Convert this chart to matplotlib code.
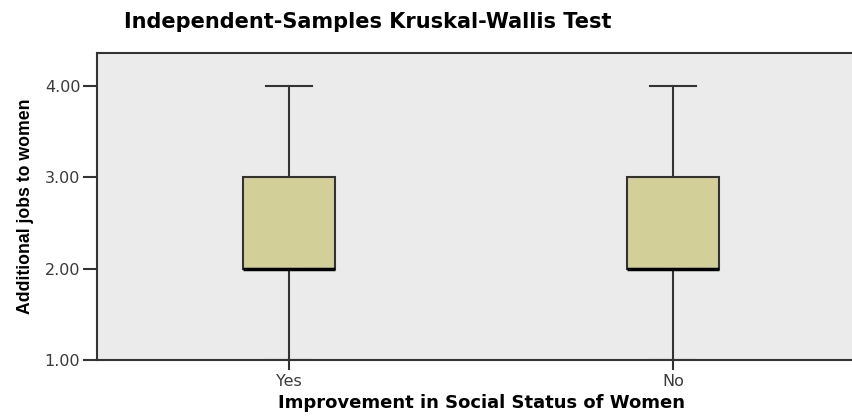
import matplotlib.pyplot as plt

groups = ['Yes', 'No']
q1 = [2.0, 2.0]
medians = [2.0, 2.0]
q3 = [3.0, 3.0]
mins = [1.0, 1.0]
maxs = [4.0, 4.0]
yticks = [1.0, 2.0, 3.0, 4.0]

W, H = 853, 419
fig = plt.figure(figsize=(W / 100, H / 100), dpi=100)
ax = fig.add_axes([97 / W, (H - 360) / H, (865 - 97) / W, (360 - 53) / H])
ax.set_facecolor('#ebebeb')

stats = []
for i in range(len(groups)):
    stats.append({'label': groups[i], 'q1': q1[i], 'med': medians[i], 'q3': q3[i],
                  'whislo': mins[i], 'whishi': maxs[i], 'fliers': []})

edge = '#333333'
ax.bxp(stats, positions=range(len(groups)), widths=0.24, patch_artist=True,
       showfliers=False,
       boxprops=dict(facecolor='#d3cf98', edgecolor=edge, linewidth=1.5),
       medianprops=dict(color='black', linewidth=2.5),
       whiskerprops=dict(color=edge, linewidth=1.5),
       capprops=dict(color=edge, linewidth=1.5),
       capwidths=0.12)

ax.set_xlim(-0.5, 1.5)
ax.set_ylim(1.0, 4.36)
ax.set_yticks(yticks)
ax.set_yticklabels(['%.2f' % v for v in yticks])
ax.set_xticks(range(len(groups)))
ax.set_xticklabels(groups)

for s in ['left', 'bottom', 'top']:
    ax.spines[s].set_color(edge)
    ax.spines[s].set_linewidth(1.5)
ax.spines['right'].set_visible(False)

ax.tick_params(axis='y', length=10, width=1.5, color=edge, labelsize=11.5,
               labelcolor='#3a3a3a', pad=2)
ax.tick_params(axis='x', length=7, width=1.5, color=edge, labelsize=11.5,
               labelcolor='#3a3a3a', pad=3)
for lab in ax.get_xticklabels() + ax.get_yticklabels():
    lab.set_family('DejaVu Sans')

ax.set_xlabel('Improvement in Social Status of Women', fontsize=13,
              fontweight='bold', family='DejaVu Sans', labelpad=4)
ax.set_ylabel('Additional jobs to women', fontsize=12.7, fontweight='bold',
              family='Liberation Sans', labelpad=8)

fig.text(368 / W, 1 - 22 / H, 'Independent-Samples Kruskal-Wallis Test',
         ha='center', va='center', fontsize=15, fontweight='bold',
         family='DejaVu Sans')

fig.savefig('out.png', dpi=100)
